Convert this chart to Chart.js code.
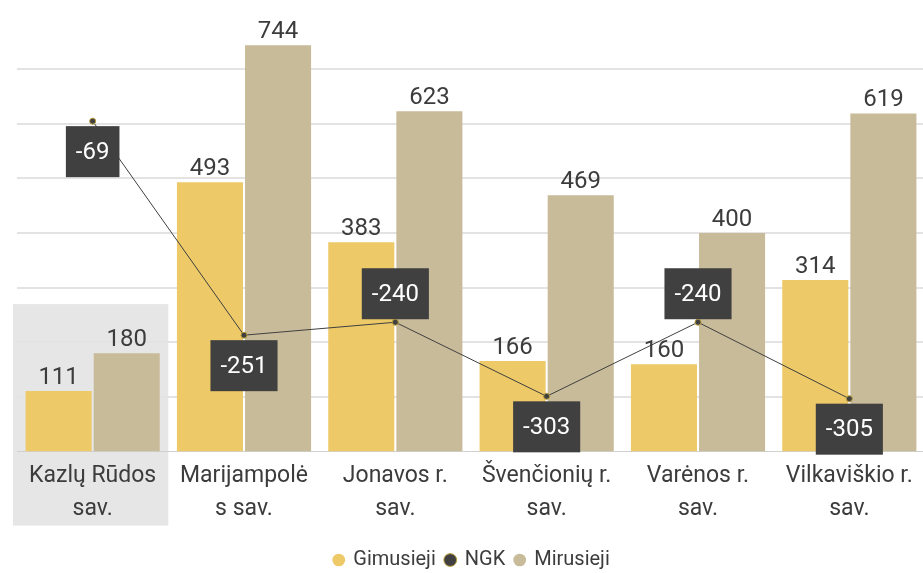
<!DOCTYPE html>
<html>
<head>
<meta charset="utf-8">
<script src="https://cdn.jsdelivr.net/npm/chart.js@4/dist/chart.umd.min.js"></script>
<style>
  html, body { margin: 0; padding: 0; background: #fff; overflow: hidden; }
  #wrap { width: 930px; height: 573px; }
</style>
</head>
<body>
<div id="wrap"><canvas id="c"></canvas></div>
<script>
const categories = [
    ['Kazlų Rūdos', 'sav.'],
    ['Marijampolė', 's sav.'],
    ['Jonavos r.', 'sav.'],
    ['Švenčionių r.', 'sav.'],
    ['Varėnos r.', 'sav.'],
    ['Vilkaviškio r.', 'sav.']
];
const gimusieji = [111, 493, 383, 166, 160, 314];
const mirusieji = [180, 744, 623, 469, 400, 619];
const ngk = [-69, -251, -240, -303, -240, -305];
const gridValues = [100, 200, 300, 400, 500, 600, 700];

// where the NGK box sits relative to its point
const ngkLabelPos = ['below', 'below', 'above', 'below', 'above', 'below'];

const FONT = 'Roboto, "DejaVu Sans", sans-serif';

// grey band behind the first category
const highlightPlugin = {
    id: 'highlight',
    beforeDraw(chart) {
        const { ctx, scales } = chart;
        const x = scales.x, y = scales.y;
        const w = (x.right - x.left) / categories.length;
        const cx = x.getPixelForValue(0);
        const top = y.getPixelForValue(270);
        ctx.save();
        ctx.fillStyle = '#e6e6e6';
        ctx.fillRect(cx - w / 2 - 4, top, w + 4, chart.chartArea.bottom - top + 74);
        ctx.restore();
    }
};

const labelsPlugin = {
    id: 'valueLabels',
    afterDatasetsDraw(chart) {
        const { ctx } = chart;
        ctx.save();
        ctx.font = '24px ' + FONT;
        ctx.textAlign = 'center';
        chart.data.datasets.forEach((ds, di) => {
            if (ds.type === 'line') return;
            chart.getDatasetMeta(di).data.forEach((el, i) => {
                ctx.fillStyle = '#3c3c3c';
                ctx.textBaseline = 'bottom';
                ctx.fillText(ds.data[i], el.x, el.y - 1);
            });
        });
        // NGK boxes
        const li = chart.data.datasets.findIndex(d => d.type === 'line');
        chart.getDatasetMeta(li).data.forEach((el, i) => {
            const txt = String(ngk[i]);
            const bw = ctx.measureText(txt).width + 20, bh = 51;
            const top = ngkLabelPos[i] === 'above' ? el.y - bh - 3 : el.y + 5;
            ctx.fillStyle = '#404040';
            ctx.fillRect(el.x - bw / 2, top, bw, bh);
            ctx.fillStyle = '#ffffff';
            ctx.textBaseline = 'middle';
            ctx.fillText(txt, el.x, top + bh / 2 + 1);
        });
        ctx.restore();
    }
};

new Chart(document.getElementById('c'), {
    data: {
        labels: categories,
        datasets: [
            {
                type: 'bar',
                label: 'Gimusieji',
                data: gimusieji,
                backgroundColor: '#EDC967',
                yAxisID: 'y',
                order: 1,
                categoryPercentage: 0.9,
                barPercentage: 0.97
            },
            {
                type: 'line',
                label: 'NGK',
                data: ngk,
                borderColor: '#404040',
                backgroundColor: '#404040',
                borderWidth: 1,
                pointRadius: 3,
                pointBorderColor: '#b59a3a',
                pointBorderWidth: 1,
                yAxisID: 'y2',
                order: 0
            },
            {
                type: 'bar',
                label: 'Mirusieji',
                data: mirusieji,
                backgroundColor: '#C8BB99',
                yAxisID: 'y',
                order: 1,
                categoryPercentage: 0.9,
                barPercentage: 0.97
            }
        ]
    },
    options: {
        responsive: true,
        maintainAspectRatio: false,
        animation: false,
        layout: { padding: { top: 20, left: 17, right: 3, bottom: -7 } },
        plugins: {
            legend: {
                position: 'bottom',
                labels: {
                    usePointStyle: true,
                    pointStyle: 'circle',
                    boxWidth: 9,
                    boxHeight: 9,
                    padding: 10,
                    color: '#3c3c3c',
                    font: { family: FONT, size: 20 },
                    sort: (a, b) => a.datasetIndex - b.datasetIndex
                }
            },
            tooltip: { enabled: false }
        },
        scales: {
            x: {
                grid: { display: false },
                border: { color: '#d0d0d0' },
                ticks: {
                    color: '#3c3c3c',
                    padding: 1,
                    maxRotation: 0,
                    font: { family: FONT, size: 23, lineHeight: 1.4 }
                },
                afterFit: s => { s.height += 14; }
            },
            y: {
                type: 'linear',
                position: 'left',
                min: 0,
                max: 790,
                border: { display: false },
                grid: { drawTicks: false, color: '#e3e3e3', lineWidth: 2 },
                ticks: { display: false },
                afterBuildTicks: s => { s.ticks = gridValues.map(v => ({ value: v })); }
            },
            y2: {
                type: 'linear',
                display: false,
                min: -350,
                max: 17
            }
        }
    },
    plugins: [highlightPlugin, labelsPlugin]
});
</script>
</body>
</html>
